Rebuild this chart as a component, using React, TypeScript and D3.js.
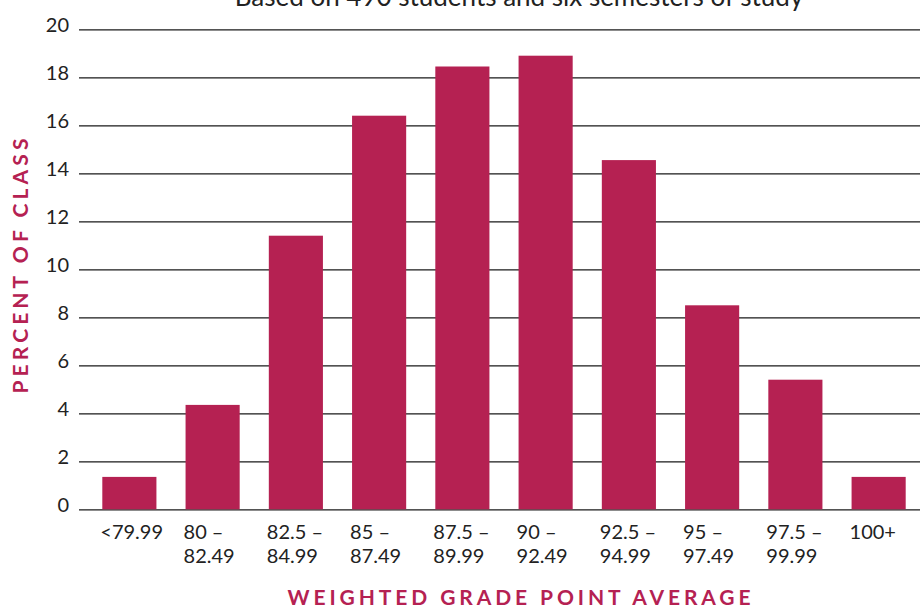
import { FC, useEffect, useRef } from 'react';
import * as d3 from 'd3';

const CRIMSON = '#b52152';

const categories = [
  '<79.99',
  '80–82.49',
  '82.5–84.99',
  '85–87.49',
  '87.5–89.99',
  '90–92.49',
  '92.5–94.99',
  '95–97.49',
  '97.5–99.99',
  '100+',
];
const labelLines = [
  ['<79.99'],
  ['80 –', '82.49'],
  ['82.5 –', '84.99'],
  ['85 –', '87.49'],
  ['87.5 –', '89.99'],
  ['90 –', '92.49'],
  ['92.5 –', '94.99'],
  ['95 –', '97.49'],
  ['97.5 –', '99.99'],
  ['100+'],
];
const percents = [1.35, 4.35, 11.4, 16.4, 18.45, 18.9, 14.55, 8.5, 5.4, 1.35];
const yTicks = [0, 2, 4, 6, 8, 10, 12, 14, 16, 18, 20];

const title = 'Based on 490 students and six semesters of study';

const Chart: FC = () => {
  const svgRef = useRef<SVGSVGElement>(null);

  useEffect(() => {
    if (!svgRef.current) return;
    const width = 920;
    const height = 608;
    const svg = d3.select(svgRef.current);
    svg.selectAll('*').remove();

    const x = d3
      .scaleBand<string>()
      .domain(categories)
      .range([79, 929])
      .paddingInner(0.35)
      .paddingOuter(0.28);
    const y = d3.scaleLinear().domain([0, 20]).range([509.3, 29.3]);

    const font = 'Lato, "Noto Sans", sans-serif';

    // gridlines + tick labels
    const yAxis = d3
      .axisLeft(y)
      .tickValues(yTicks)
      .tickSize(-(width - 79))
      .tickPadding(10)
      .tickFormat((d) => String(d));
    const gy = svg
      .append('g')
      .attr('transform', 'translate(79,0)')
      .call(yAxis);
    gy.select('.domain').remove();
    gy.selectAll('.tick line').attr('stroke', '#1a1a1a').attr('stroke-width', 1.3);
    gy.selectAll('.tick text')
      .attr('x', -10)
      .attr('dy', '0.1em')
      .attr('fill', '#222')
      .style('font-family', font)
      .style('font-size', '20px');

    svg
      .append('g')
      .selectAll('rect')
      .data(percents)
      .join('rect')
      .attr('x', (_, i) => x(categories[i])!)
      .attr('width', x.bandwidth())
      .attr('y', (d) => y(d))
      .attr('height', (d) => y(0) - y(d))
      .attr('fill', CRIMSON);

    const labels = svg
      .append('g')
      .selectAll('text')
      .data(labelLines)
      .join('text')
      .attr('x', (_, i) => x(categories[i])! - 2)
      .attr('y', 539)
      .attr('fill', '#222')
      .style('font-family', font)
      .style('font-size', '20px');
    labels
      .selectAll('tspan')
      .data((d) => d)
      .join('tspan')
      .attr('x', function () {
        return (this.parentNode as SVGTextElement).getAttribute('x');
      })
      .attr('dy', (_, i) => (i === 0 ? 0 : 24))
      .text((d) => d);

    svg
      .append('text')
      .attr('x', 519)
      .attr('y', 6)
      .attr('text-anchor', 'middle')
      .attr('fill', '#222')
      .style('font-family', font)
      .style('font-size', '26px')
      .text(title);

    svg
      .append('text')
      .attr('x', 521)
      .attr('y', 605)
      .attr('text-anchor', 'middle')
      .attr('fill', CRIMSON)
      .style('font-family', font)
      .style('font-weight', 700)
      .style('font-size', '21px')
      .style('letter-spacing', '3.9px')
      .text('WEIGHTED GRADE POINT AVERAGE');

    svg
      .append('text')
      .attr('transform', 'translate(28,264) rotate(-90)')
      .attr('text-anchor', 'middle')
      .attr('fill', CRIMSON)
      .style('font-family', font)
      .style('font-weight', 700)
      .style('font-size', '21px')
      .style('letter-spacing', '4.1px')
      .text('PERCENT OF CLASS');

    svg.attr('width', width).attr('height', height);
  }, []);

  return (
    <svg
      ref={svgRef}
      style={{ position: 'absolute', left: 0, top: 0, background: '#fff' }}
    />
  );
};

export default function App() {
  return <Chart />;
}
